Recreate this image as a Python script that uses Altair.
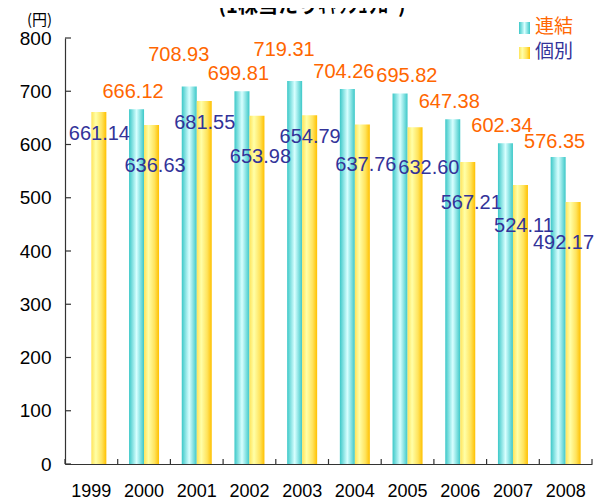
import altair as alt
import pandas as pd

# ---- data ----
years = ["1999", "2000", "2001", "2002", "2003", "2004", "2005", "2006", "2007", "2008"]
renketsu = [None, 666.12, 708.93, 699.81, 719.31, 704.26, 695.82, 647.38, 602.34, 576.35]
kobetsu = [661.14, 636.63, 681.55, 653.98, 654.79, 637.76, 632.60, 567.21, 524.11, 492.17]
series_names = ["連結", "個別"]
y_ticks = [0, 100, 200, 300, 400, 500, 600, 700, 800]
title_text = "(1株当たりｷｬｯｼｭﾌﾛｰ)"
unit_text = "(円)"

# ---- layout / style ----
W, H = 527, 426
Y_MAX = 800
N = len(years)
STEP = W / N
PX = H / Y_MAX
FONT = "Liberation Sans, Arial, Noto Sans CJK JP"
CJK = "Noto Sans CJK JP, Liberation Sans"
ORANGE = "#FF6600"
BLUE = "#333399"
AXIS = "#333333"
BAR_W = 15

cyan_grad = alt.LinearGradient(
    gradient="linear", x1=0, x2=1, y1=0, y2=0,
    stops=[alt.GradientStop(color="#3CC8C8", offset=0),
           alt.GradientStop(color="#D8FFFF", offset=0.5),
           alt.GradientStop(color="#3CC8C8", offset=1)])
yellow_grad = alt.LinearGradient(
    gradient="linear", x1=0, x2=1, y1=0, y2=0,
    stops=[alt.GradientStop(color="#FFE45A", offset=0),
           alt.GradientStop(color="#FFFFA8", offset=0.3),
           alt.GradientStop(color="#FFE35C", offset=0.7),
           alt.GradientStop(color="#FFC000", offset=1)])

# ---- label placement rule: peaks lifted, simple collision avoidance (pixels) ----
LW, LH = 61, 16


def place_labels(values, base, lifted, above):
    out = []
    prev = None
    for i, v in enumerate(values):
        if v is None:
            out.append(None)
            continue
        left = values[i - 1] if i > 0 else None
        right = values[i + 1] if i + 1 < len(values) else None
        neigh = [u for u in (left, right) if u is not None]
        peak = bool(neigh) and all(v > u for u in neigh)
        dx, dy = lifted if peak else base
        cx = (i + 0.5) * STEP
        top = H - v * PX
        x, y = cx + dx, top + dy
        if prev is not None:
            px, py = prev
            if abs(x - px) < LW and abs(y - py) < LH:
                right_shift = px + LW + 2 - x
                down_shift = (py + LH - y) if y >= py else float("inf")
                if above and y + down_shift + LH / 2 > top - 2:
                    down_shift = float("inf")
                if down_shift < right_shift:
                    y += down_shift
                else:
                    x += right_shift
        x = min(x, W + 2 - LW / 2)
        out.append((x - cx, y - top))
        prev = (x, y)
    return out


off_r = place_labels(renketsu, base=(-11, -17), lifted=(-18, -31), above=True)
off_k = place_labels(kobetsu, base=(11, 41), lifted=(8, 22), above=False)

bar_rows, lab_rows = [], []
for s, vals, offs in ((series_names[0], renketsu, off_r), (series_names[1], kobetsu, off_k)):
    for i, (yr, v, o) in enumerate(zip(years, vals, offs)):
        if v is None:
            continue
        bar_rows.append({"year": yr, "series": s, "value": v})
        # label anchor: band centre + pixel offset, expressed in each scale's units
        lab_rows.append({"series": s, "label": f"{v:.2f}",
                         "lx": i + 0.5 + o[0] / STEP,
                         "value": v - o[1] / PX})
df = pd.DataFrame(bar_rows)
df_lab = pd.DataFrame(lab_rows)
df_years = pd.DataFrame({"year": years})
df_last = pd.DataFrame({"year": [years[-1]]})
df_ticks = pd.DataFrame({"value": y_ticks})
one = pd.DataFrame({"k": [0]})

xscale = alt.Scale(domain=years, paddingInner=0, paddingOuter=0)
yscale = alt.Scale(domain=[0, Y_MAX], nice=False)

x_axis = alt.Axis(title=None, labelAngle=0, labelFontSize=18, labelFont=FONT,
                  labelColor="#000", ticks=False, tickSize=0, labelPadding=18,
                  domainColor=AXIS, domainWidth=1.2)
y_axis = alt.Axis(values=y_ticks, title=unit_text, titleAngle=0, titleX=-26, titleY=-19,
                  titleAlign="center", titleBaseline="middle", titleFontSize=15,
                  titleFont=CJK, titleFontWeight="normal", titleColor="#000",
                  labelFontSize=19, labelFont=FONT, labelColor="#000",
                  ticks=False, tickSize=0, labelPadding=14, grid=False,
                  domainColor=AXIS, domainWidth=1.2)

y_enc = alt.Y("value:Q", scale=yscale, axis=y_axis)

base = alt.Chart(df)
bars_r = base.transform_filter(alt.datum.series == series_names[0]).mark_bar(
    color=cyan_grad, width=BAR_W, xOffset=-BAR_W / 2).encode(
    x=alt.X("year:N", scale=xscale, sort=years, axis=x_axis), y=y_enc)
bars_k = base.transform_filter(alt.datum.series == series_names[1]).mark_bar(
    color=yellow_grad, width=BAR_W, xOffset=BAR_W / 2).encode(
    x=alt.X("year:N", scale=xscale, sort=years, axis=x_axis), y=y_enc)

# inward axis ticks
ytick = alt.Chart(df_ticks).mark_rule(color=AXIS, strokeWidth=1.2).encode(
    y=y_enc, x=alt.value(0), x2=alt.value(6))
xtick = alt.Chart(df_years).mark_rule(color=AXIS, strokeWidth=1.2).encode(
    x=alt.X("year:N", scale=xscale, sort=years, bandPosition=0, axis=x_axis),
    y=alt.value(H - 5), y2=alt.value(H))
xtick_end = alt.Chart(df_last).mark_rule(color=AXIS, strokeWidth=1.2).encode(
    x=alt.X("year:N", scale=xscale, sort=years, bandPosition=1, axis=x_axis),
    y=alt.value(H - 5), y2=alt.value(H))

main = alt.layer(bars_r, bars_k, ytick, xtick, xtick_end)

# value labels (own linear x scale covering the same width: band i spans [i, i+1])
lscale = alt.Scale(domain=[0, N], nice=False, zero=False)


def label_layer(name, color):
    return alt.Chart(df_lab).transform_filter(alt.datum.series == name).mark_text(
        fontSize=20, font=FONT, color=color, baseline="middle", align="center").encode(
        x=alt.X("lx:Q", scale=lscale, axis=None),
        y=y_enc,
        text="label:N")


labels = alt.layer(label_layer(series_names[0], ORANGE), label_layer(series_names[1], BLUE))

# title (partly cut off at the top, as in the reference)
title = alt.Chart(one).mark_text(fontSize=20, font=CJK, fontWeight="bold", color="#000",
                                 align="center", baseline="alphabetic").encode(
    x=alt.value(247), y=alt.value(-25), text=alt.value(title_text))

# manual legend
leg_sw_r = alt.Chart(one).mark_rect(color=cyan_grad).encode(
    x=alt.value(454), x2=alt.value(465), y=alt.value(-16), y2=alt.value(-4))
leg_sw_k = alt.Chart(one).mark_rect(color=yellow_grad).encode(
    x=alt.value(454), x2=alt.value(465), y=alt.value(9), y2=alt.value(21))
leg_t_r = alt.Chart(one).mark_text(fontSize=19, font=CJK, color=ORANGE, align="left",
                                   baseline="middle").encode(
    x=alt.value(470), y=alt.value(-11), text=alt.value(series_names[0]))
leg_t_k = alt.Chart(one).mark_text(fontSize=19, font=CJK, color=BLUE, align="left",
                                   baseline="middle").encode(
    x=alt.value(470), y=alt.value(14), text=alt.value(series_names[1]))

chart = alt.layer(
    main, labels, title, leg_sw_r, leg_sw_k, leg_t_r, leg_t_k
).resolve_scale(x="independent").properties(
    width=W, height=H,
    padding={"left": 57, "top": 30, "right": 3, "bottom": 36},
    autosize=alt.AutoSizeParams(type="none"),
    background="white",
).configure_view(stroke=None)

chart.save("out.html", embed_options={"renderer": "svg", "actions": False})
